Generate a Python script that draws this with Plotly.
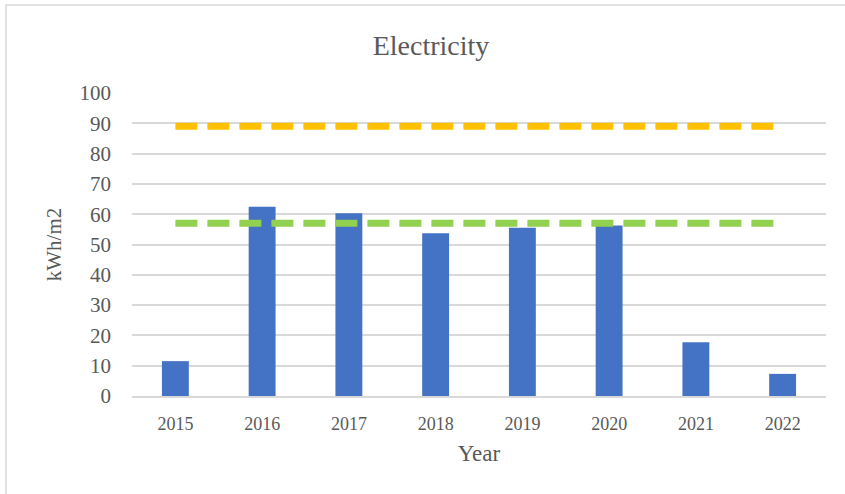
import plotly.graph_objects as go

years = ["2015", "2016", "2017", "2018", "2019", "2020", "2021", "2022"]
electricity = [11.5, 62.5, 60.3, 53.7, 55.5, 56.3, 17.7, 7.3]
upper_ref = [89] * len(years)
lower_ref = [57] * len(years)
y_ticks = list(range(0, 101, 10))

W, H = 845, 494
L, R, T, B = 132, 19, 93, 98
pw, ph = W - L - R, H - T - B

def px_x(x):
    return (x - L) / pw

def px_y(y):
    return (H - B - y) / ph

fig = go.Figure()
fig.add_trace(go.Bar(x=years, y=electricity, marker=dict(color="#4472C4", line=dict(width=0)),
                     width=0.31, name="Electricity"))
fig.add_trace(go.Scatter(x=years, y=upper_ref, mode="lines",
                         line=dict(color="#FFC000", width=7, dash="22px,10px"), name="Upper"))
fig.add_trace(go.Scatter(x=years, y=lower_ref, mode="lines",
                         line=dict(color="#92D050", width=7, dash="22px,10px"), name="Lower"))

serif = "Liberation Serif, Times New Roman, serif"
fig.update_layout(
    width=W, height=H,
    margin=dict(l=L, r=R, t=T, b=B),
    paper_bgcolor="white", plot_bgcolor="white",
    showlegend=False,
    font=dict(family=serif, color="#595959"),
    title=dict(text="Electricity", x=431 / W, xanchor="center", xref="container",
               y=1 - 45 / H, yanchor="middle", yref="container",
               font=dict(size=28, family=serif, color="#595959")),
    xaxis=dict(type="category", showgrid=False, showline=True, linecolor="#D9D9D9", linewidth=2,
               ticks="", tickfont=dict(size=18), ticklabelstandoff=10,
               title=dict(text="Year", font=dict(size=23), standoff=12)),
    yaxis=dict(range=[0, 100], tickvals=y_ticks, showgrid=True, gridcolor="#D9D9D9", gridwidth=1.5,
               zeroline=False, showline=False, ticks="", tickfont=dict(size=21), ticklabelstandoff=20,
               title=dict(text="kWh/m2", font=dict(size=21), standoff=12)),
    shapes=[dict(type="rect", xref="paper", yref="paper",
                 x0=px_x(6), x1=px_x(860), y0=px_y(510), y1=px_y(5),
                 line=dict(color="#D9D9D9", width=1.5), fillcolor="rgba(0,0,0,0)", layer="below")],
)

fig.write_html("out.html")
